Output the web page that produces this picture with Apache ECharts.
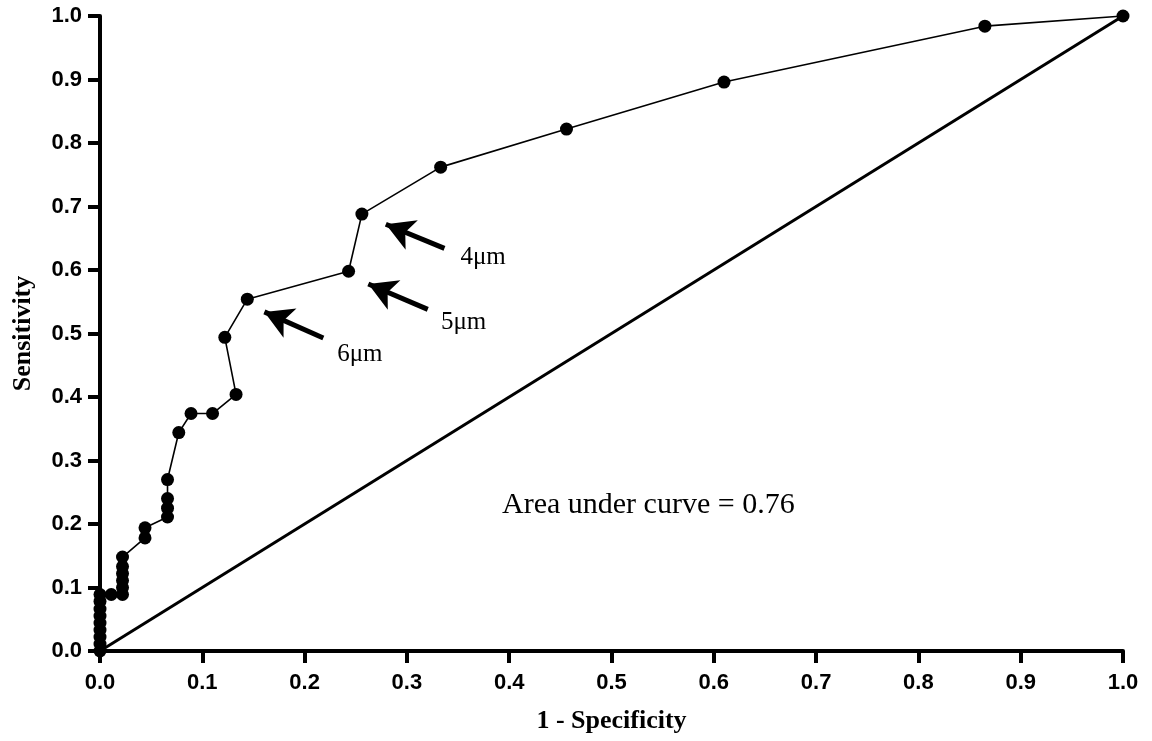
<!DOCTYPE html>
<html>
<head>
<meta charset="utf-8">
<script src="https://cdn.jsdelivr.net/npm/echarts@6/dist/echarts.min.js"></script>
<style>
  html, body { margin: 0; padding: 0; background: #fff; }
  #chart { width: 1152px; height: 741px; }
</style>
</head>
<body>
<div id="chart"></div>
<script>
// ROC points (1 - specificity, sensitivity)
const fpr = [0, 0, 0, 0, 0, 0, 0, 0, 0, 0.011,
  0.022, 0.022, 0.022, 0.022, 0.022, 0.022,
  0.044, 0.044, 0.066, 0.066, 0.066, 0.066,
  0.077, 0.089, 0.110, 0.133, 0.122, 0.144, 0.243, 0.256,
  0.333, 0.456, 0.610, 0.865, 1.0]
const tpr = [0, 0.011, 0.022, 0.033, 0.044, 0.055, 0.066, 0.078, 0.089, 0.089,
  0.089, 0.1, 0.111, 0.122, 0.133, 0.148,
  0.178, 0.194, 0.211, 0.225, 0.24, 0.27,
  0.344, 0.374, 0.374, 0.404, 0.494, 0.554, 0.598, 0.688,
  0.762, 0.822, 0.896, 0.984, 1.0]

const refLine = [[0, 0], [1, 1]]
const tickLabels = ['0.0', '0.1', '0.2', '0.3', '0.4', '0.5', '0.6', '0.7', '0.8', '0.9', '1.0']

// annotation arrows (data space)
const arrowTails = [[0.2183, 0.493], [0.3204, 0.538], [0.3367, 0.634]]
const arrowHeads = [[0.1607, 0.534], [0.2623, 0.578], [0.2794, 0.672]]
const arrowLabels = ['6μm', '5μm', '4μm']
const arrowLabelPos = [[0.254, 0.467], [0.3554, 0.517], [0.3745, 0.62]]
const aucText = 'Area under curve = 0.76'
const aucPos = [0.536, 0.2303]

const chart = echarts.init(document.getElementById('chart'))

const fmt = (v) => tickLabels[Math.round(v * 10)]

const axisCommon = {
  type: 'value',
  min: 0,
  max: 1,
  interval: 0.1,
  nameLocation: 'middle',
  nameTextStyle: {
    fontFamily: 'Liberation Serif',
    fontWeight: 'bold',
    fontSize: 26,
    color: '#000',
  },
  axisLine: { show: true, onZero: false, lineStyle: { color: '#000', width: 4 } },
  axisTick: { show: true, length: 12, lineStyle: { color: '#000', width: 4 } },
  splitLine: { show: false },
  axisLabel: {
    formatter: fmt,
    color: '#000',
    fontFamily: 'Liberation Sans',
    fontWeight: 'bold',
    fontSize: 22,
  },
}

const option = {
  animation: false,
  grid: { left: 100, right: 29, top: 16, bottom: 90 },
  xAxis: Object.assign({}, axisCommon, {
    name: '1 - Specificity',
    nameGap: 57,
    axisLabel: Object.assign({}, axisCommon.axisLabel, { margin: 21 }),
  }),
  yAxis: Object.assign({}, axisCommon, {
    name: 'Sensitivity',
    nameGap: 64,
    axisLabel: Object.assign({}, axisCommon.axisLabel, { margin: 18 }),
  }),
  series: [
    {
      type: 'line',
      data: refLine,
      symbol: 'none',
      lineStyle: { color: '#000', width: 3 },
      silent: true,
      markLine: {
        silent: true,
        symbol: ['none', 'arrow'],
        symbolSize: [24, 28],
        lineStyle: { color: '#000', width: 5, type: 'solid' },
        label: { show: false },
        data: arrowTails.map((t, i) => [{ coord: t }, { coord: arrowHeads[i] }]),
      },
      markPoint: {
        silent: true,
        symbol: 'circle',
        symbolSize: 1,
        itemStyle: { color: 'rgba(0,0,0,0)' },
        label: {
          show: true,
          position: 'inside',
          color: '#000',
          fontFamily: 'Liberation Serif',
          fontSize: 25,
          formatter: (p) => p.name,
        },
        data: arrowLabels.map((n, i) => ({ name: n, coord: arrowLabelPos[i] })).concat([
          { name: aucText, coord: aucPos, label: { fontSize: 30 } },
        ]),
      },
    },
    {
      type: 'line',
      data: fpr.map((x, i) => [x, tpr[i]]),
      symbol: 'circle',
      symbolSize: 13,
      showAllSymbol: true,
      clip: false,
      itemStyle: { color: '#000' },
      lineStyle: { color: '#000', width: 1.6 },
      z: 3,
    },
  ],
}

chart.setOption(option)
</script>
</body>
</html>
